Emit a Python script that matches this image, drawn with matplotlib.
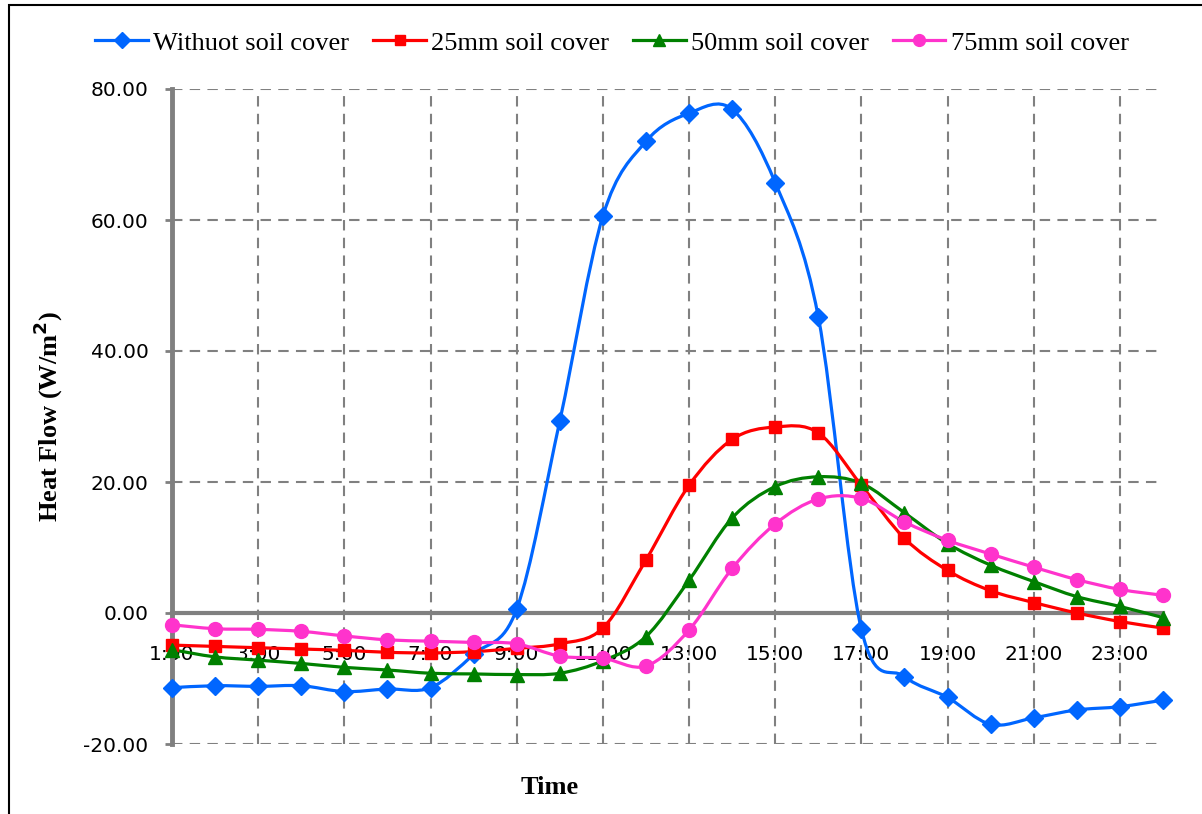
import matplotlib
matplotlib.use('Agg')
import matplotlib.pyplot as plt
from matplotlib.path import Path
from matplotlib.patches import PathPatch, Rectangle
from matplotlib.lines import Line2D
import numpy as np

# ---------- data ----------
hours = list(range(1, 25))
tick_hours = list(range(1, 24, 2))
tick_labels = [f'{h}:00' for h in tick_hours]

without_cover = [-11.4, -11.1, -11.2, -11.1, -12.0, -11.6, -11.4, -6.3, 0.6, 29.3, 60.6, 72.0,
                 76.3, 76.9, 65.7, 45.2, -2.5, -9.7, -12.9, -17.0, -16.0, -14.8, -14.3, -13.3]
cover_25mm = [-4.9, -5.1, -5.3, -5.5, -5.7, -6.0, -6.1, -5.9, -5.4, -4.7, -2.3, 8.1,
              19.5, 26.5, 28.4, 27.5, 19.5, 11.4, 6.5, 3.4, 1.6, 0.0, -1.3, -2.3]
cover_50mm = [-5.6, -6.7, -7.2, -7.7, -8.3, -8.7, -9.2, -9.3, -9.4, -9.2, -7.3, -3.6,
              5.0, 14.5, 19.3, 20.8, 19.8, 15.3, 10.6, 7.3, 4.8, 2.5, 1.0, -0.7]
cover_75mm = [-1.8, -2.4, -2.5, -2.8, -3.5, -4.1, -4.3, -4.5, -4.7, -6.6, -6.9, -8.1,
              -2.6, 6.8, 13.6, 17.4, 17.5, 13.9, 11.1, 9.0, 7.0, 5.1, 3.6, 2.7]

series_names = ['Withuot soil cover', '25mm soil cover', '50mm soil cover', '75mm soil cover']
series_values = [without_cover, cover_25mm, cover_50mm, cover_75mm]
series_colors = ['#0066FF', '#FF0000', '#008000', '#FF33CC']
series_markers = ['D', 's', '^', 'o']
marker_sizes = [9, 9, 10, 10]

GRID = '#808080'
W, H = 1202, 814


def smooth_path(x, y):
    """Excel 风格的平滑曲线：以相邻点构造三次贝塞尔控制点。"""
    pts = np.column_stack([x, y]).astype(float)
    n = len(pts)
    verts = [pts[0]]
    codes = [Path.MOVETO]
    for i in range(n - 1):
        p0 = pts[i - 1] if i > 0 else pts[i]
        p1 = pts[i]
        p2 = pts[i + 1]
        p3 = pts[i + 2] if i + 2 < n else pts[i + 1]
        c1 = p1 + (p2 - p0) / 6.0
        c2 = p2 - (p3 - p1) / 6.0
        verts += [c1, c2, p2]
        codes += [Path.CURVE4] * 3
    return Path(verts, codes)


fig = plt.figure(figsize=(W / 100, H / 100), dpi=100)
ax = fig.add_axes([172 / W, 1 - 744 / H, (1163 - 172) / W, (744 - 89) / H])

for vals, color, marker, ms in zip(series_values, series_colors, series_markers, marker_sizes):
    patch = PathPatch(smooth_path(hours, vals), facecolor='none', edgecolor=color,
                      lw=2.3, zorder=3, capstyle='round', joinstyle='round')
    ax.add_patch(patch)
    ax.plot(hours, vals, linestyle='none', marker=marker, markersize=ms,
            color=color, markeredgecolor=color, zorder=4, clip_on=False)

ax.set_xlim(1, 24)
ax.set_ylim(-20, 80)
ax.set_xticks(tick_hours)
ax.set_xticklabels(tick_labels)
ax.set_yticks([-20, 0, 20, 40, 60, 80])
ax.set_yticklabels([f'{v:.2f}' for v in [-20, 0, 20, 40, 60, 80]])

for s in ['top', 'right']:
    ax.spines[s].set_visible(False)
ax.spines['bottom'].set_position(('data', 0))
ax.spines['bottom'].set_color(GRID)
ax.spines['bottom'].set_linewidth(3)
ax.spines['left'].set_color(GRID)
ax.spines['left'].set_linewidth(3.5)

ax.grid(True, color=GRID, lw=1.5, linestyle=(0, (5, 3.5)), zorder=0)
ax.set_axisbelow(True)

ax.tick_params(axis='x', length=0, pad=23, labelsize=14.5)
ax.tick_params(axis='y', length=5, width=2, color=GRID, pad=12, labelsize=14.5)

fig.text(48 / W, 1 - 417 / H, 'Heat Flow (W/m$^\\mathbf{2}$)', rotation=90, ha='center', va='center',
         family='Liberation Serif', fontweight='bold', fontsize=19)
fig.text(550 / W, 1 - 787 / H, 'Time', ha='center', va='center',
         family='Liberation Serif', fontweight='bold', fontsize=19)

handles = [Line2D([], [], color=c, lw=2.3, marker=m, markersize=ms * 0.85)
           for c, m, ms in zip(series_colors, series_markers, marker_sizes)]
fig.legend(handles, series_names, loc='center', bbox_to_anchor=(612 / W, 1 - 43 / H),
           ncol=4, frameon=False, prop={'family': 'Liberation Serif', 'size': 19},
           handlelength=2.0, handletextpad=0.2, columnspacing=0.9)

# 外框（只露出上边和左边）
fig.add_artist(Rectangle((9 / W, -0.1), 1.2, 1 - 5 / H + 0.1, transform=fig.transFigure,
                         fill=False, lw=1.5, ec='black'))

fig.savefig('out.png', dpi=100)
